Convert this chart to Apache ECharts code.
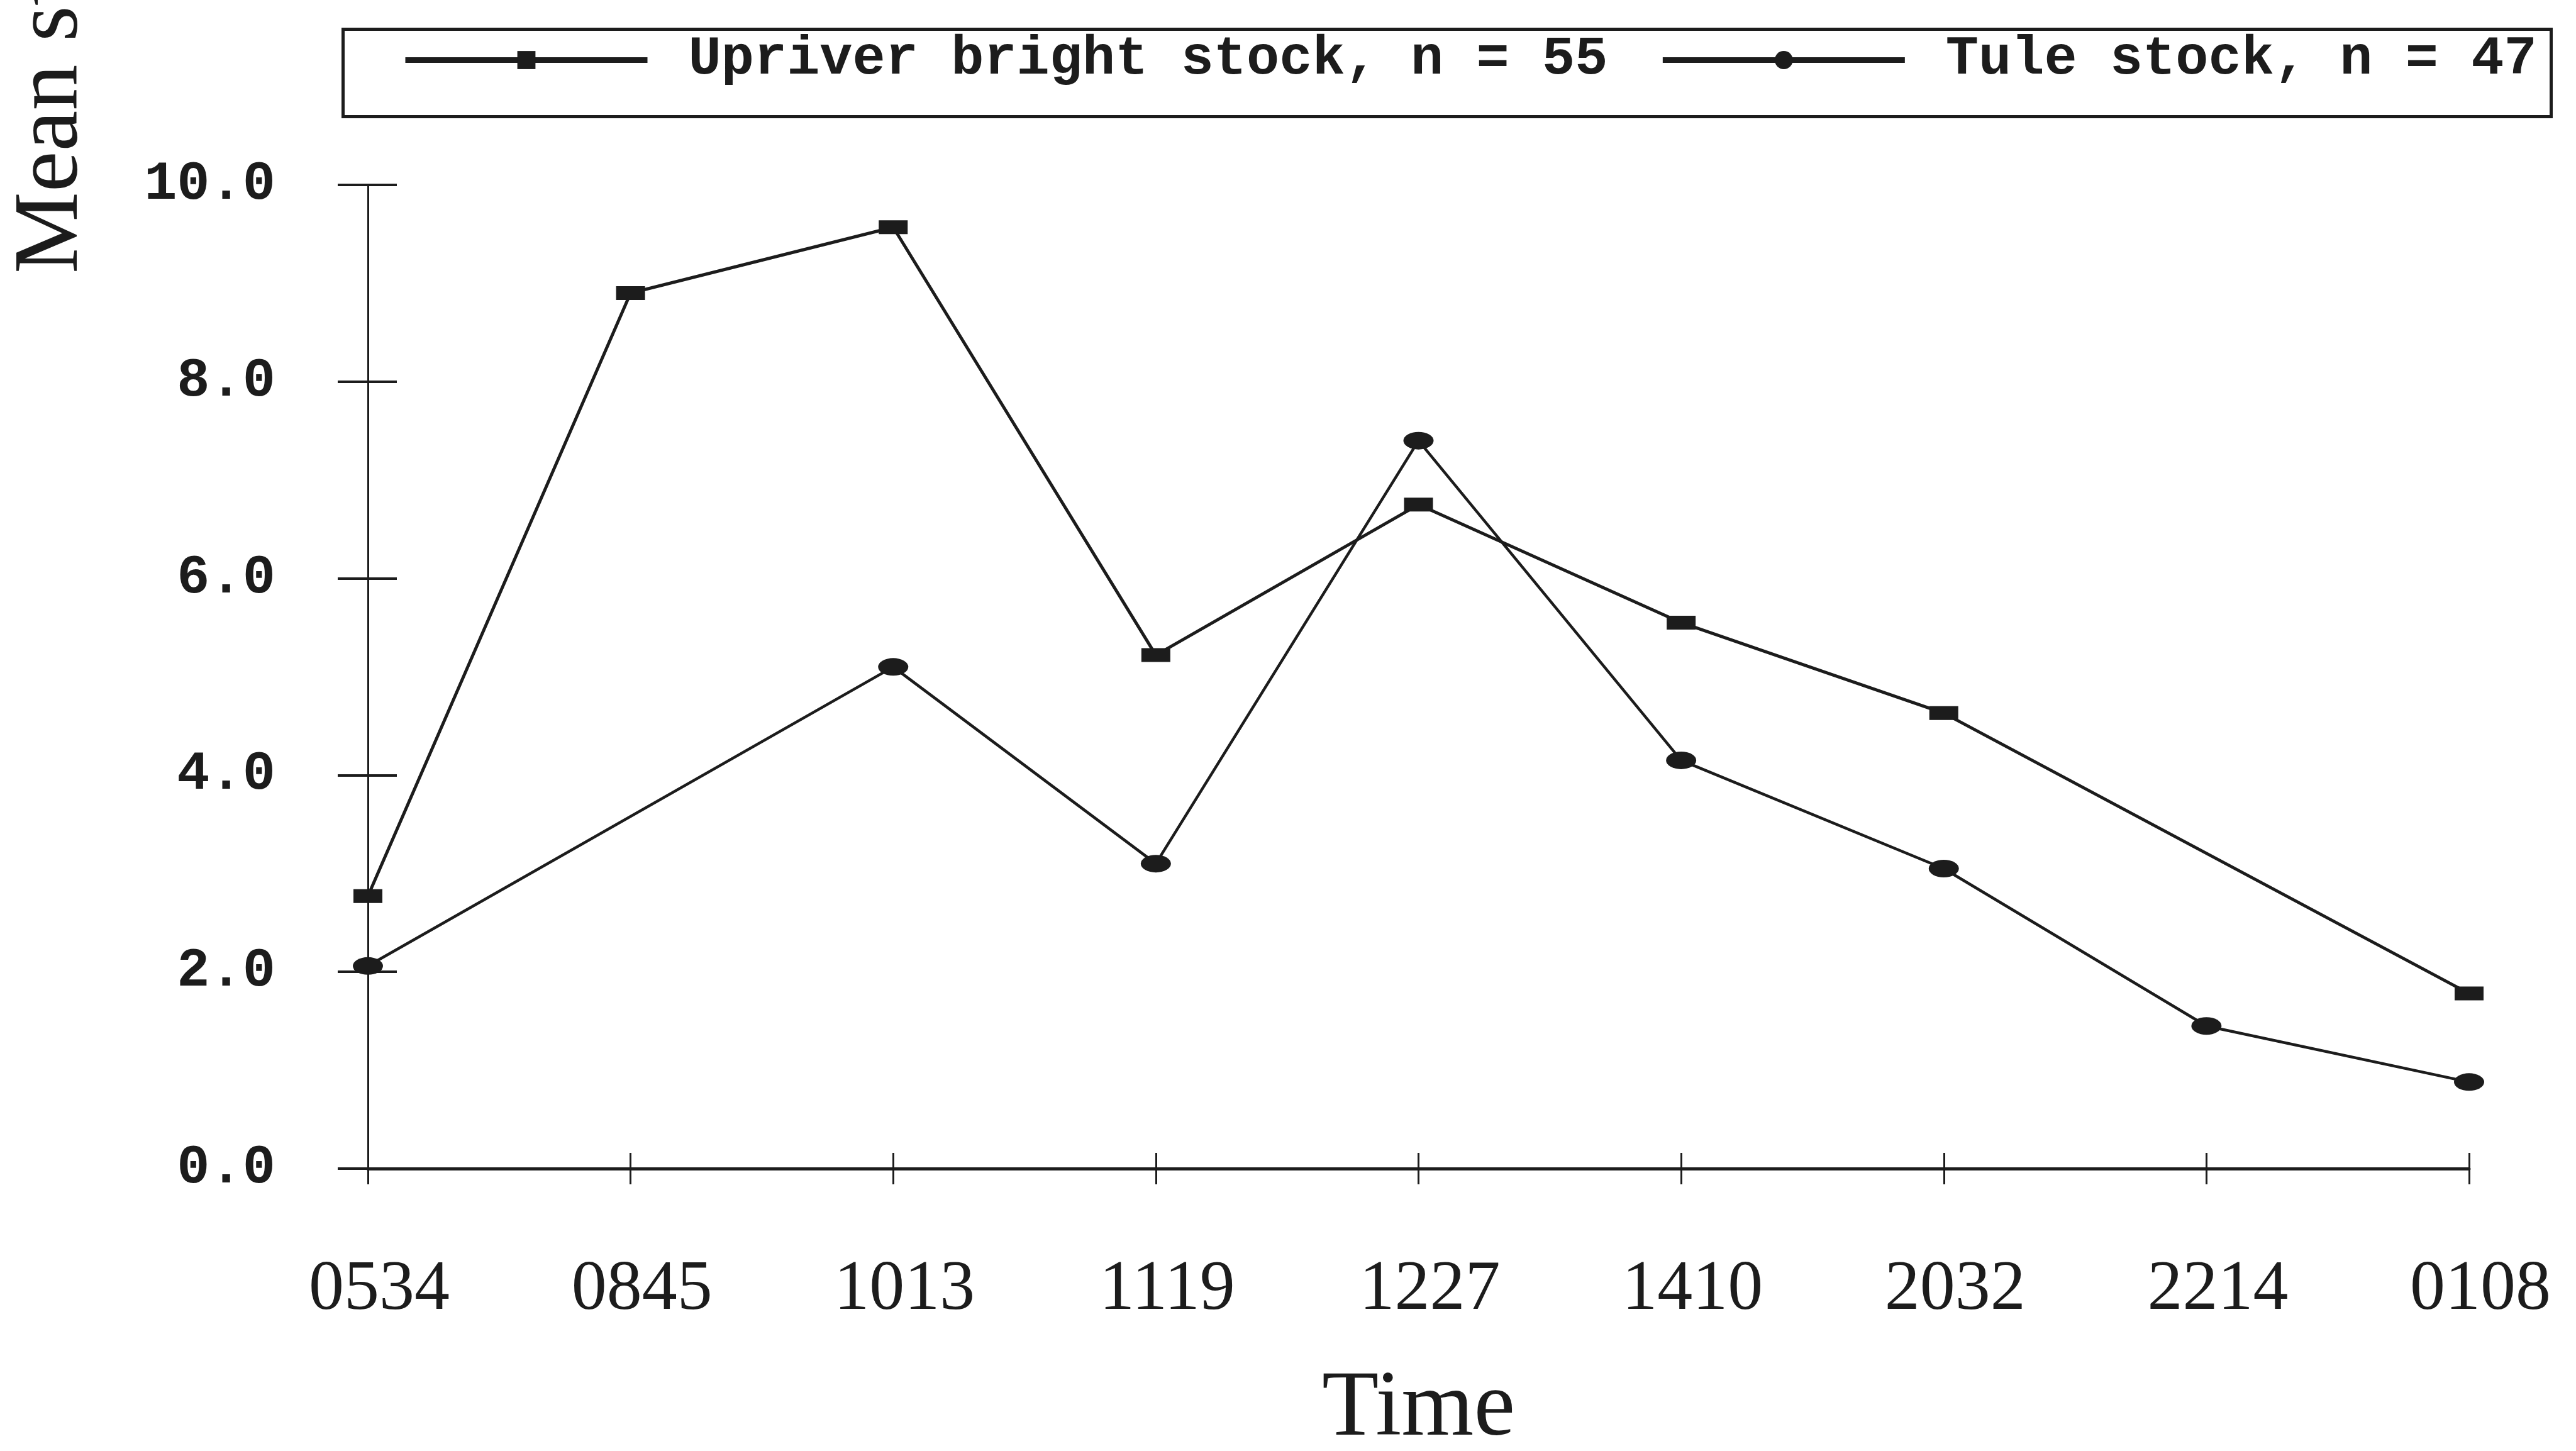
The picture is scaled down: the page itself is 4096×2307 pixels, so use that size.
<!DOCTYPE html>
<html>
<head>
<meta charset="utf-8">
<script src="https://cdn.jsdelivr.net/npm/echarts@6/dist/echarts.min.js"></script>
<style>html,body{margin:0;padding:0;background:#fff;}#c{width:4096px;height:2307px;}</style>
</head>
<body>
<div id="c"></div>
<script>
const categories = ['0534', '0845', '1013', '1119', '1227', '1410', '2032', '2214', '0108'];
const upriverValues = [2.77, 8.9, 9.57, 5.22, 6.75, 5.55, 4.63, null, 1.78];
const tuleValues = [2.06, null, 5.1, 3.1, 7.4, 4.15, 3.05, 1.45, 0.88];
const yTicks = { min: 0, max: 10, interval: 2 };
const seriesNames = ['Upriver bright stock, n = 55', 'Tule stock, n = 47'];
const xTitle = 'Time';
const yTitle = 'Mean stomach fullness';

const ink = '#1c1c1c';
const grid = { left: 585, right: 170, top: 294, bottom: 449 };
const chart = echarts.init(document.getElementById('c'));
const ellipse = 'path://M0,10A20,10 0 1,1 40,10A20,10 0 1,1 0,10Z';

chart.setOption({
  backgroundColor: '#ffffff',
  animation: false,
  grid: Object.assign({ outerBoundsMode: 'none', containLabel: false }, grid),
  graphic: [
    { type: 'rect', left: 543, top: 44, shape: { width: 3511, height: 139 },
      style: { fill: 'none', stroke: ink, lineWidth: 5 } },
    { type: 'text', x: 84, y: 435, rotation: Math.PI / 2,
      style: { text: yTitle, font: '146px "Liberation Serif"', fill: ink,
               textAlign: 'left', textVerticalAlign: 'middle' } }
  ],
  legend: {
    left: 640, top: 52, itemWidth: 385, itemHeight: 36, itemGap: 83,
    padding: 0,
    textStyle: { fontFamily: 'Liberation Mono', fontWeight: 'bold', fontSize: 87, color: ink, padding: [0, 0, 0, 60] },
    lineStyle: { width: 9 },
    data: seriesNames
  },
  xAxis: [
    { type: 'category', data: categories, boundaryGap: false, position: 'bottom',
      axisLine: { lineStyle: { color: ink, width: 5 } },
      axisTick: { show: true, length: 25, lineStyle: { color: ink, width: 3 } },
      axisLabel: { fontFamily: 'Liberation Serif', fontSize: 112, color: ink, margin: 138, padding: [0, 0, 0, 36] },
      name: xTitle, nameLocation: 'middle', nameGap: 310,
      nameTextStyle: { fontFamily: 'Liberation Serif', fontSize: 148, color: ink },
      splitLine: { show: false } },
    { type: 'category', data: categories, boundaryGap: false, position: 'bottom',
      axisLine: { show: false },
      axisTick: { show: true, inside: true, length: 25, lineStyle: { color: ink, width: 3 } },
      axisLabel: { show: false }, splitLine: { show: false } }
  ],
  yAxis: [
    { type: 'value', min: yTicks.min, max: yTicks.max, interval: yTicks.interval,
      axisLine: { show: true, lineStyle: { color: ink, width: 3 } },
      axisTick: { show: true, length: 48, lineStyle: { color: ink, width: 4 } },
      axisLabel: { fontFamily: 'Liberation Mono', fontWeight: 'bold', fontSize: 87, color: ink, margin: 147,
                   formatter: v => v.toFixed(1) },
      splitLine: { show: false } },
    { type: 'value', min: yTicks.min, max: yTicks.max, interval: yTicks.interval,
      axisLine: { show: false }, position: 'left',
      axisTick: { show: true, inside: true, length: 46, lineStyle: { color: ink, width: 4 } },
      axisLabel: { show: false }, splitLine: { show: false } }
  ],
  series: [
    { name: seriesNames[0], type: 'line', data: upriverValues, connectNulls: true,
      symbol: 'rect', symbolSize: [46, 22],
      lineStyle: { color: ink, width: 5 }, itemStyle: { color: ink } },
    { name: seriesNames[1], type: 'line', data: tuleValues, connectNulls: true,
      symbol: ellipse, symbolSize: [48, 28],
      lineStyle: { color: ink, width: 4.5 }, itemStyle: { color: ink } }
  ]
});
</script>
</body>
</html>
